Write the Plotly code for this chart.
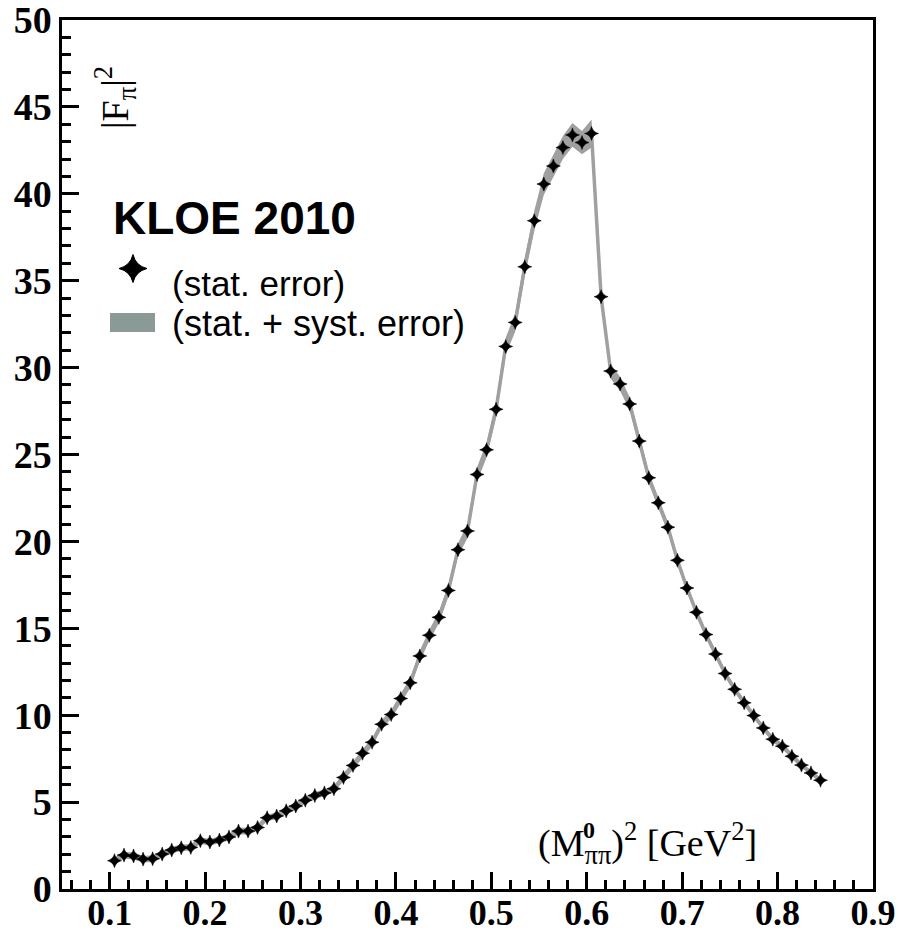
import plotly.graph_objects as go

# Data
m2 = [0.105, 0.115, 0.125, 0.135, 0.145, 0.155, 0.165, 0.175, 0.185, 0.195,
      0.205, 0.215, 0.225, 0.235, 0.245, 0.255, 0.265, 0.275, 0.285, 0.295,
      0.305, 0.315, 0.325, 0.335, 0.345, 0.355, 0.365, 0.375, 0.385, 0.395,
      0.405, 0.415, 0.425, 0.435, 0.445, 0.455, 0.465, 0.475, 0.485, 0.495,
      0.505, 0.515, 0.525, 0.535, 0.545, 0.555, 0.565, 0.575, 0.585, 0.595,
      0.605, 0.615, 0.625, 0.635, 0.645, 0.655, 0.665, 0.675, 0.685, 0.695,
      0.705, 0.715, 0.725, 0.735, 0.745, 0.755, 0.765, 0.775, 0.785, 0.795,
      0.805, 0.815, 0.825, 0.835, 0.845]

fpi2 = [1.63, 1.95, 1.90, 1.72, 1.74, 2.01, 2.24, 2.37, 2.39, 2.78,
        2.70, 2.82, 2.99, 3.33, 3.33, 3.54, 4.10, 4.20, 4.50, 4.77,
        5.11, 5.38, 5.53, 5.77, 6.42, 7.11, 7.81, 8.44, 9.48, 10.04,
        10.96, 11.86, 13.41, 14.60, 15.63, 17.18, 19.52, 20.60, 23.85, 25.27,
        27.60, 31.22, 32.60, 35.80, 38.45, 40.56, 41.60, 42.66, 43.39, 42.95,
        43.47, 34.08, 29.80, 29.06, 27.91, 25.77, 23.66, 22.22, 20.82, 18.91,
        17.32, 15.92, 14.64, 13.52, 12.40, 11.49, 10.71, 9.98, 9.27, 8.62,
        8.22, 7.64, 7.13, 6.68, 6.26]

# total (stat + syst) error
tot_err = [0.20, 0.20, 0.20, 0.19, 0.19, 0.19, 0.19, 0.19, 0.19, 0.19,
           0.19, 0.19, 0.19, 0.19, 0.19, 0.19, 0.19, 0.19, 0.20, 0.20,
           0.20, 0.20, 0.20, 0.20, 0.21, 0.22, 0.23, 0.24, 0.25, 0.26,
           0.27, 0.29, 0.30, 0.32, 0.34, 0.36, 0.38, 0.40, 0.42, 0.44,
           0.47, 0.50, 0.52, 0.55, 0.58, 0.62, 0.64, 0.66, 0.68, 0.67,
           0.80, 0.50, 0.42, 0.40, 0.38, 0.35, 0.33, 0.31, 0.29, 0.27,
           0.25, 0.24, 0.22, 0.21, 0.20, 0.19, 0.18, 0.18, 0.17, 0.17,
           0.16, 0.16, 0.15, 0.15, 0.15]

x_ticks = [0.1, 0.2, 0.3, 0.4, 0.5, 0.6, 0.7, 0.8, 0.9]
x_ticklabels = ["0.1", "0.2", "0.3", "0.4", "0.5", "0.6", "0.7", "0.8", "0.9"]
y_ticks = [0, 5, 10, 15, 20, 25, 30, 35, 40, 45, 50]

band_color = "#a0a0a0"
legend_patch_color = "#8a9a97"

lower = [v - e for v, e in zip(fpi2, tot_err)]
upper = [v + e for v, e in zip(fpi2, tot_err)]

fig = go.Figure()
fig.add_trace(go.Scatter(x=m2, y=lower, mode="lines", line=dict(width=0, color=band_color),
                         showlegend=False, hoverinfo="skip"))
fig.add_trace(go.Scatter(x=m2, y=upper, mode="lines", line=dict(width=0, color=band_color),
                         fill="tonexty", fillcolor=band_color, showlegend=False, hoverinfo="skip"))
fig.add_trace(go.Scatter(x=m2, y=fpi2, mode="lines", line=dict(width=3.5, color=band_color),
                         showlegend=False, hoverinfo="skip"))
fig.add_trace(go.Scatter(x=m2, y=fpi2, mode="markers",
                         marker=dict(symbol="star-diamond", size=10, color="black",
                                     line=dict(width=0.5, color="black")),
                         showlegend=False))

# legend symbol (cross marker)
fig.add_trace(go.Scatter(x=[0.1244], y=[35.7], mode="markers",
                         marker=dict(symbol="star-diamond", size=20, color="black",
                                     line=dict(width=1, color="black")),
                         showlegend=False, hoverinfo="skip"))

y_tick_font = dict(family="Liberation Serif", size=38, color="black", weight="bold")
x_tick_font = dict(family="Liberation Serif", size=36, color="black", weight="bold")

fig.update_xaxes(range=[0.05, 0.9], tickvals=x_ticks, ticktext=x_ticklabels,
                 showline=True, linecolor="black", linewidth=2.5, mirror=True,
                 ticks="inside", ticklen=17, tickwidth=2.5, tickcolor="black",
                 minor=dict(dtick=0.02, tick0=0.0, ticks="inside", ticklen=9,
                            tickwidth=2.5, tickcolor="black"),
                 showgrid=False, zeroline=False, tickfont=x_tick_font, automargin=False,
                 ticklabeloverflow="allow", ticklabelstandoff=-10)
fig.update_yaxes(range=[0, 50], tickvals=y_ticks,
                 showline=True, linecolor="black", linewidth=2.5, mirror=True,
                 ticks="inside", ticklen=17, tickwidth=2.5, tickcolor="black",
                 minor=dict(dtick=1, tick0=0, ticks="inside", ticklen=9,
                            tickwidth=2.5, tickcolor="black"),
                 showgrid=False, zeroline=False, tickfont=y_tick_font, automargin=False,
                 ticklabeloverflow="allow")

sans = "Liberation Sans"
serif = "Liberation Serif"

annotations = [
    dict(text="<b>KLOE 2010</b>", x=111, y=218, font=dict(family=sans, size=46, color="black")),
    dict(text="(stat. error)", x=170, y=283, font=dict(family=sans, size=35, color="black")),
    dict(text="(stat. + syst. error)", x=170, y=323, font=dict(family=sans, size=36, color="black")),
]
anns = []
for a in annotations:
    anns.append(dict(text=a["text"], xref="paper", yref="paper",
                     x=(a["x"] - 62) / 811, y=(889 - a["y"]) / 869,
                     xanchor="left", yanchor="middle", showarrow=False, font=a["font"]))

# y-axis title
anns.append(dict(text="|F<sub>π</sub>|<sup>2</sup>", xref="paper", yref="paper",
                 x=(115 - 62) / 811, y=(889 - 98) / 869, xanchor="center", yanchor="middle",
                 textangle=-90, showarrow=False,
                 font=dict(family=serif, size=38, color="black")))
# x-axis title
anns.append(dict(text="(M<sub>ππ</sub>)<sup>2</sup> [GeV<sup>2</sup>]", xref="paper", yref="paper",
                 x=(647 - 62) / 811, y=(889 - 843) / 869, xanchor="center", yanchor="middle",
                 showarrow=False, font=dict(family=serif, size=38, color="black")))
anns.append(dict(text="<b>0</b>", xref="paper", yref="paper",
                 x=(589 - 62) / 811, y=(889 - 830) / 869, xanchor="center", yanchor="middle",
                 showarrow=False, font=dict(family=serif, size=24, color="black")))

fig.update_layout(
    width=901, height=934,
    margin=dict(l=62, r=28, t=20, b=45, autoexpand=False),
    paper_bgcolor="white", plot_bgcolor="white",
    annotations=anns,
    shapes=[dict(type="rect", xref="paper", yref="paper",
                 x0=(110 - 62) / 811, x1=(155 - 62) / 811,
                 y0=(889 - 332) / 869, y1=(889 - 313) / 869,
                 fillcolor=legend_patch_color, line=dict(width=0))],
)

fig.write_html("out.html")
